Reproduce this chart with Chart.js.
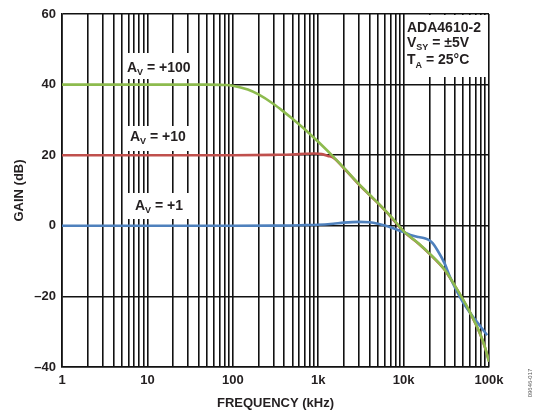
<!DOCTYPE html>
<html>
<head>
<meta charset="utf-8">
<script src="https://cdn.jsdelivr.net/npm/chart.js@4.4.1/dist/chart.umd.min.js"></script>
<style>
  html, body { margin: 0; padding: 0; background: #fff; }
  #wrap { width: 541px; height: 415px; position: relative; }
</style>
</head>
<body>
<div id="wrap"><canvas id="c" width="541" height="415"></canvas></div>
<script>
// ---- data ----
const freqGreen = [1, 10, 50, 80, 100, 150, 200, 300, 400, 500, 700, 1000, 1500, 2000, 3000, 4000, 5000, 7000, 10000, 15000, 20000, 30000, 40000, 50000, 60000, 70000, 80000, 90000, 100000];
const gainGreen = [40, 40, 40, 39.9, 39.7, 38.6, 37.2, 34.5, 32.2, 30.3, 27.3, 23.8, 19.6, 16.4, 11.8, 8.8, 6.5, 2.8, -1.5, -5.0, -7.8, -12.3, -17.0, -21.0, -24.5, -27.8, -31.0, -34.5, -38.5];

const freqRed = [1, 10, 100, 300, 500, 700, 900, 1100, 1300, 1500, 2000, 3000, 4000, 5000, 7000, 10000, 15000, 20000, 30000, 40000, 50000, 60000, 70000, 80000, 90000, 100000];
const gainRed = [20, 20, 20, 20.1, 20.2, 20.4, 20.5, 20.3, 19.8, 19.3, 16.3, 11.7, 8.7, 6.4, 2.7, -1.6, -5.1, -7.9, -12.4, -17.1, -21.1, -24.6, -27.9, -31.1, -34.6, -38.3];

const freqBlue = [1, 10, 100, 300, 500, 700, 1000, 1500, 2000, 3000, 4000, 5000, 6000, 7000, 8000, 10000, 12000, 15000, 18000, 20000, 22000, 25000, 30000, 35000, 40000, 50000, 60000, 70000, 80000, 90000, 95000];
const gainBlue = [0, 0, 0, 0.05, 0.1, 0.2, 0.3, 0.6, 0.9, 1.1, 1.0, 0.6, 0.1, -0.4, -0.9, -1.8, -2.6, -3.2, -3.6, -4.1, -5.0, -7.0, -10.5, -14.5, -17.5, -21.8, -24.6, -26.8, -28.6, -30.2, -31.0];

const xTickValues = [1, 10, 100, 1000, 10000, 100000];
const xTickLabels = ['1', '10', '100', '1k', '10k', '100k'];
const yTickValues = [-40, -20, 0, 20, 40, 60];
const yTickLabels = ['\u201340', '\u201320', '0', '20', '40', '60'];

const seriesNames = ['AV = +100', 'AV = +1', 'AV = +10'];
// --------------------------------------

const toPts = (fx, gy) => fx.map((f, i) => ({ x: f, y: gy[i] }));

// grid positions: 1..9 in every decade
const gridTicks = [];
for (let d = 0; d < xTickValues.length - 1; d++) {
  for (let m = 1; m <= 9; m++) gridTicks.push(xTickValues[d] * m);
}
gridTicks.push(xTickValues[xTickValues.length - 1]);

const TXT = '#231f20';
const FONT = "'Liberation Sans', Arial, Helvetica, sans-serif";

function drawRich(ctx, x, y, parts) {
  let cx = x;
  for (const p of parts) {
    ctx.font = 'bold ' + p.size + 'px ' + FONT;
    ctx.fillText(p.t, cx, y + (p.dy || 0));
    cx += ctx.measureText(p.t).width;
  }
}

const annot = {
  id: 'annot',
  beforeDatasetsDraw(chart) {
    const { ctx, chartArea: ca } = chart;
    ctx.save();
    ctx.fillStyle = '#fff';
    // white boxes behind labels
    ctx.fillRect(125, 53, 70, 26);
    ctx.fillRect(125, 126, 70, 25);
    ctx.fillRect(125, 193, 70, 26);
    ctx.fillRect(405, ca.top + 1, ca.right - 405 - 1, 77 - ca.top - 1);
    ctx.fillStyle = TXT;
    ctx.textBaseline = 'alphabetic';
    ctx.textAlign = 'left';
    drawRich(ctx, 127, 72, [{ t: 'A', size: 14 }, { t: 'V', size: 9, dy: 3 }, { t: ' = +100', size: 14 }]);
    drawRich(ctx, 130, 141, [{ t: 'A', size: 14 }, { t: 'V', size: 9, dy: 3 }, { t: ' = +10', size: 14 }]);
    drawRich(ctx, 135, 210, [{ t: 'A', size: 14 }, { t: 'V', size: 9, dy: 3 }, { t: ' = +1', size: 14 }]);
    drawRich(ctx, 407, 32, [{ t: 'ADA4610-2', size: 14 }]);
    drawRich(ctx, 407, 47, [{ t: 'V', size: 14 }, { t: 'SY', size: 9, dy: 3 }, { t: ' = \u00b15V', size: 14 }]);
    drawRich(ctx, 407, 64, [{ t: 'T', size: 14 }, { t: 'A', size: 9, dy: 4 }, { t: ' = 25\u00b0C', size: 14 }]);
    ctx.restore();
  },
  afterDraw(chart) {
    const { ctx } = chart;
    ctx.save();
    ctx.translate(530, 383);
    ctx.rotate(-Math.PI / 2);
    ctx.font = '6px ' + FONT;
    ctx.fillStyle = '#555';
    ctx.textAlign = 'center';
    ctx.textBaseline = 'middle';
    ctx.fillText('09646-017', 0, 0);
    ctx.restore();
  }
};

const lineStyle = { fill: false, pointRadius: 0, borderWidth: 2.6, cubicInterpolationMode: 'monotone' };

new Chart(document.getElementById('c'), {
  type: 'line',
  data: {
    datasets: [
      Object.assign({ label: seriesNames[0], data: toPts(freqGreen, gainGreen), borderColor: '#8dbb4e' }, lineStyle),
      Object.assign({ label: seriesNames[1], data: toPts(freqBlue, gainBlue), borderColor: '#4f81bd' }, lineStyle),
      Object.assign({ label: seriesNames[2], data: toPts(freqRed, gainRed), borderColor: '#c0504d' }, lineStyle)
    ]
  },
  options: {
    responsive: false,
    animation: false,
    devicePixelRatio: 1,
    layout: { padding: { left: 0, right: 52, top: 14, bottom: 0 } },
    plugins: { legend: { display: false }, tooltip: { enabled: false } },
    scales: {
      x: {
        type: 'logarithmic',
        min: 1, max: 100000,
        afterBuildTicks(scale) { scale.ticks = gridTicks.map(v => ({ value: v })); },
        afterFit(scale) { scale.height = 48; },
        grid: { color: '#111', lineWidth: 1.6, drawTicks: false },
        border: { color: '#111', width: 1.6 },
        ticks: {
          autoSkip: false, maxRotation: 0, minRotation: 0, padding: 6,
          color: TXT, font: { family: FONT, size: 13, weight: 'bold' },
          callback(v) { const i = xTickValues.indexOf(v); return i >= 0 ? xTickLabels[i] : ''; }
        },
        title: { display: true, text: 'FREQUENCY (kHz)', color: TXT, font: { family: FONT, size: 13, weight: 'bold' }, padding: { top: 0, bottom: 4 } }
      },
      y: {
        type: 'linear',
        min: -40, max: 60,
        afterBuildTicks(scale) { scale.ticks = yTickValues.map(v => ({ value: v })); },
        afterFit(scale) { scale.width = 62; },
        grid: { color: '#111', lineWidth: 1.6, drawTicks: false },
        border: { color: '#111', width: 1.6 },
        ticks: {
          padding: 6, color: TXT, font: { family: FONT, size: 13, weight: 'bold' },
          callback(v) { const i = yTickValues.indexOf(v); return i >= 0 ? yTickLabels[i] : ''; }
        },
        title: { display: true, text: 'GAIN (dB)', color: TXT, font: { family: FONT, size: 13, weight: 'bold' }, padding: { top: 12, bottom: 0 } }
      }
    }
  },
  plugins: [annot]
});
</script>
</body>
</html>
